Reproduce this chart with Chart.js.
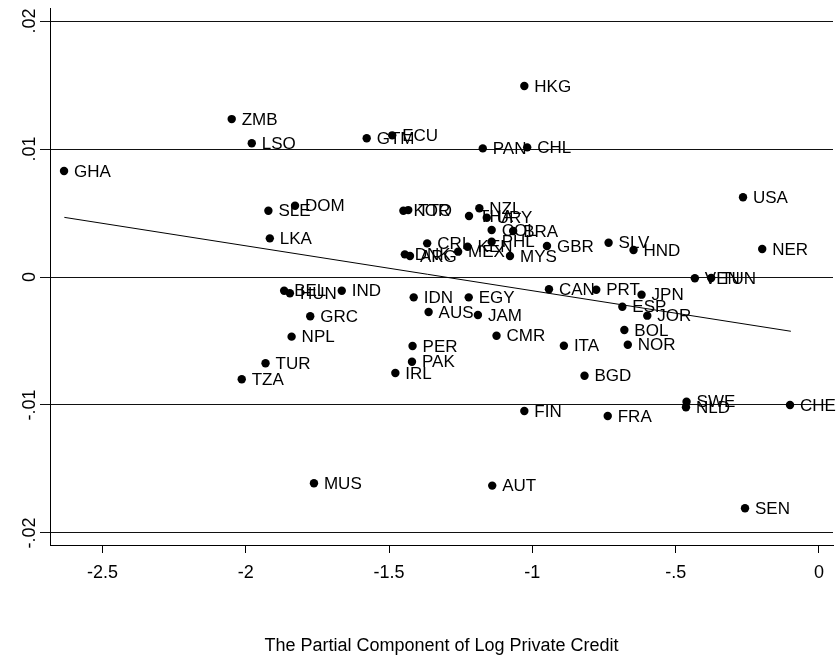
<!DOCTYPE html>
<html>
<head>
<meta charset="utf-8">
<script src="https://cdn.jsdelivr.net/npm/chart.js@4.4.1/dist/chart.umd.min.js"></script>
<style>
html, body { margin: 0; padding: 0; background: #fff; }
#wrap { width: 838px; height: 661px; position: relative; }
</style>
</head>
<body>
<div id="wrap"><canvas id="grafico"></canvas></div>
<script>
// dados
const paises = ['GHA','ZMB','LSO','GTM','ECU','HKG','PAN','CHL','USA','NER',
    'SLE','DOM','LKA','KOR','TTO','THA','NZL','URY','COL','BRA',
    'CRI','KEN','PHL','MEX','DNK','ARG','MYS','GBR','SLV','HND',
    'VEN','TUN','BEL','HUN','IND','IDN','EGY','CAN','PRT',
    'JPN','ESP','JOR','BOL','NOR','ITA','AUS','JAM','GRC','NPL',
    'CMR','PER','PAK','TUR','IRL','TZA','BGD','FIN','FRA','SWE',
    'NLD','CHE','MUS','AUT','SEN'];
const xCredito = [-2.634,-2.049,-1.979,-1.578,-1.489,-1.028,-1.173,-1.018,-0.265,-0.198,
    -1.921,-1.828,-1.916,-1.450,-1.433,-1.221,-1.185,-1.159,-1.142,-1.067,
    -1.367,-1.226,-1.142,-1.259,-1.445,-1.427,-1.078,-0.949,-0.734,-0.647,
    -0.433,-0.376,-1.866,-1.846,-1.665,-1.414,-1.222,-0.942,-0.777,
    -0.619,-0.686,-0.599,-0.679,-0.667,-0.890,-1.362,-1.190,-1.775,-1.840,
    -1.125,-1.418,-1.420,-1.931,-1.478,-2.014,-0.818,-1.028,-0.737,-0.462,
    -0.464,-0.101,-1.762,-1.140,-0.258];
const yResiduo = [0.00828,0.01234,0.01045,0.01084,0.01107,0.01492,0.01005,0.01013,0.00623,0.00219,
    0.00518,0.00557,0.00302,0.00518,0.00523,0.00477,0.00537,0.00463,0.00367,0.00359,
    0.00263,0.00237,0.00276,0.00198,0.00177,0.00164,0.00164,0.00242,0.00268,0.00211,
    -0.0001,-0.00008,-0.00107,-0.00127,-0.00107,-0.00159,-0.00159,-0.00096,-0.00099,
    -0.00138,-0.00232,-0.00302,-0.00414,-0.00529,-0.00537,-0.00273,-0.00297,-0.00307,-0.00466,
    -0.00459,-0.00539,-0.00662,-0.00674,-0.0075,-0.00799,-0.00771,-0.01047,-0.01086,-0.00974,
    -0.01018,-0.0100,-0.01612,-0.0163,-0.01807];
const ajusteX = [-2.633, -0.098];
const ajusteY = [0.00466, -0.00424];
const ticksX = [-2.5, -2, -1.5, -1, -0.5, 0];
const ticksY = [-0.02, -0.01, 0, 0.01, 0.02];

const FONTE = '"Liberation Sans", Arial, Helvetica, sans-serif';

function formatarNum(v) {
    if (v === 0) return '0';
    return (v < 0 ? '-' : '') + String(Math.abs(v)).replace(/^0/, '');
}

const pontos = xCredito.map((x, i) => ({ x: x, y: yResiduo[i] }));
const linha = ajusteX.map((x, i) => ({ x: x, y: ajusteY[i] }));

// rotulos dos paises ao lado de cada ponto
const pluginRotulos = {
    id: 'rotulos',
    afterDatasetsDraw(chart) {
        const ctx = chart.ctx;
        const meta = chart.getDatasetMeta(1);
        ctx.save();
        ctx.font = '17px ' + FONTE;
        ctx.fillStyle = '#000';
        ctx.textAlign = 'left';
        ctx.textBaseline = 'middle';
        meta.data.forEach((el, i) => {
            ctx.fillText(paises[i], el.x + 10, el.y + 1);
        });
        ctx.restore();
    }
};

// rotulos do eixo y na vertical, como no original
const pluginEixoY = {
    id: 'eixoY',
    afterDraw(chart) {
        const ctx = chart.ctx;
        const sy = chart.scales.y;
        ctx.save();
        ctx.font = '18px ' + FONTE;
        ctx.fillStyle = '#000';
        ctx.textAlign = 'center';
        ctx.textBaseline = 'middle';
        ticksY.forEach(v => {
            ctx.save();
            ctx.translate(30, sy.getPixelForValue(v));
            ctx.rotate(-Math.PI / 2);
            ctx.fillText(formatarNum(v), 0, 0);
            ctx.restore();
        });
        ctx.restore();
    }
};

const ctx = document.getElementById('grafico').getContext('2d');
new Chart(ctx, {
    data: {
        datasets: [
            {
                type: 'line',
                data: linha,
                borderColor: '#000',
                borderWidth: 1,
                pointRadius: 0,
                fill: false
            },
            {
                type: 'scatter',
                data: pontos,
                backgroundColor: '#000',
                borderColor: '#000',
                borderWidth: 0,
                pointRadius: 4.2
            }
        ]
    },
    options: {
        responsive: true,
        maintainAspectRatio: false,
        animation: false,
        layout: { padding: { top: 8, right: 5, left: 0, bottom: 0 } },
        plugins: {
            legend: { display: false },
            tooltip: { enabled: false }
        },
        scales: {
            x: {
                type: 'linear',
                min: -2.683,
                max: 0.049,
                afterBuildTicks: s => { s.ticks = ticksX.map(v => ({ value: v })); },
                afterFit: s => { s.height = 116; },
                grid: {
                    drawOnChartArea: false,
                    drawTicks: true,
                    tickLength: 8,
                    color: '#000',
                    lineWidth: 1
                },
                border: { display: true, color: '#000', width: 1 },
                ticks: {
                    padding: 9,
                    maxRotation: 0,
                    color: '#000',
                    font: { family: FONTE, size: 18 },
                    callback: v => formatarNum(v)
                },
                title: {
                    display: true,
                    text: 'The Partial Component of Log Private Credit',
                    color: '#000',
                    font: { family: FONTE, size: 18 },
                    padding: { top: 0, bottom: 4 }
                }
            },
            y: {
                type: 'linear',
                min: -0.02094,
                max: 0.02102,
                afterBuildTicks: s => { s.ticks = ticksY.map(v => ({ value: v })); },
                afterFit: s => { s.width = 50; },
                grid: {
                    drawOnChartArea: true,
                    drawTicks: true,
                    tickLength: 10,
                    color: '#111',
                    lineWidth: 1
                },
                border: { display: true, color: '#000', width: 1 },
                ticks: { display: false }
            }
        }
    },
    plugins: [pluginRotulos, pluginEixoY]
});
</script>
</body>
</html>
